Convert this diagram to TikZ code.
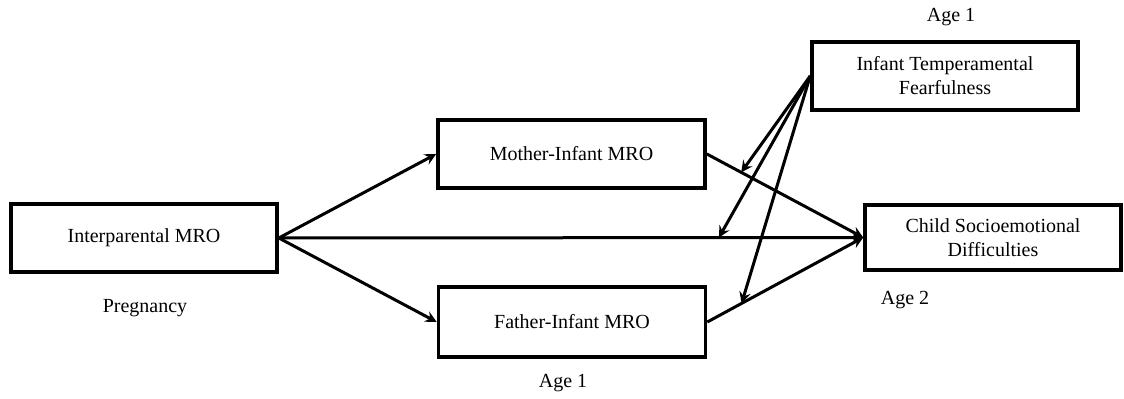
\documentclass[tikz,border=0pt]{standalone}
\usepackage{fontspec}
\setmainfont{Liberation Serif}
\usetikzlibrary{arrows}
\begin{document}
\begin{tikzpicture}[
        > = stealth,
        line width = 1.5pt,
        x = 0.5pt, y = -0.5pt,
        box/.style = {draw, line width = 1.8pt, align = center, inner sep = 0pt,
            font = \fontsize{10}{12}\selectfont},
        tag/.style = {font = \fontsize{10}{12}\selectfont}
    ]
        \useasboundingbox (0,0) rectangle (1124,399);
        \node[box, minimum width = 133pt, minimum height = 34pt] (ip) at (144,238) {Interparental MRO};
        \node[box, minimum width = 133.5pt, minimum height = 34pt] (mo) at (571.5,154) {Mother-Infant MRO};
        \node[box, minimum width = 133.5pt, minimum height = 35pt] (fa) at (572,322) {Father-Infant MRO};
        \node[box, minimum width = 133pt, minimum height = 34pt] (tf) at (945,76) {Infant Temperamental\\Fearfulness};
        \node[box, minimum width = 128pt, minimum height = 32.5pt] (cs) at (993,237.5) {Child Socioemotional\\Difficulties};
        \node[tag] (tf age) at (951,17) {Age 1};
        \node[tag] (ip age) at (145,308) {Pregnancy};
        \node[tag] (cs age) at (905,300) {Age 2};
        \node[tag] (fa age) at (563,383) {Age 1};
        \draw[->] (ip.east) -- (mo.west);
        \draw[->] (ip.east) -- (fa.west);
        \draw[->] (ip.east) -- (cs.west);
        \draw[->] (mo.east) -- (cs.west);
        \draw[->] (fa.east) -- (cs.west);
        \path (mo.east) -- (cs.west) coordinate[pos = 0.22] (mo mod);
        \path (ip.east) -- (cs.west) coordinate[pos = 0.753] (ip mod);
        \path (fa.east) -- (cs.west) coordinate[pos = 0.22] (fa mod);
        \draw[->] (tf.west) -- (mo mod);
        \draw[->] (tf.west) -- (ip mod);
        \draw[->] (tf.west) -- (fa mod);
    \end{tikzpicture}
\end{document}
